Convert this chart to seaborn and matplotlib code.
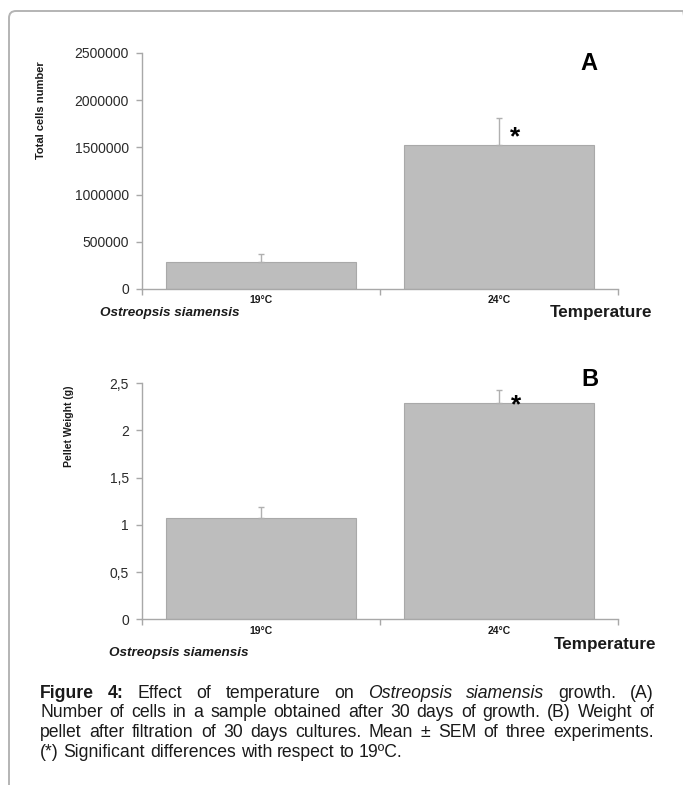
import matplotlib
matplotlib.use("Agg")
import matplotlib.pyplot as plt
import matplotlib.transforms as mtransforms
from matplotlib.patches import FancyBboxPatch
import seaborn as sns
import pandas as pd

# ---- data -------------------------------------------------------------
temperatures = ["19°C", "24°C"]
cell_counts = [286000, 1529000]
cell_counts_sem = [84000, 286000]
pellet_weights = [1.07, 2.29]
pellet_weights_sem = [0.115, 0.14]

cell_ticks = [0, 500000, 1000000, 1500000, 2000000, 2500000]
cell_tick_labels = ["0", "500000", "1000000", "1500000", "2000000", "2500000"]
weight_ticks = [0, 0.5, 1, 1.5, 2, 2.5]
weight_tick_labels = ["0", "0,5", "1", "1,5", "2", "2,5"]

# ---- style ------------------------------------------------------------
sns.set_theme(style="white")
plt.rcParams["font.family"] = ["Liberation Sans", "DejaVu Sans"]

W, H = 683, 785
fig = plt.figure(figsize=(W / 100, H / 100), dpi=100)
fig.patch.set_facecolor("white")
PIX = mtransforms.IdentityTransform()

AXIS_GREY = "#a8a8a8"
TEXT = "#1a1a1a"


def px(x, y):
    """Pixel position measured from the top-left corner -> display coords."""
    return x, H - y


def put(x, y, s, **kw):
    xx, yy = px(x, y)
    kw.setdefault("color", TEXT)
    return fig.text(xx, yy, s, transform=PIX, **kw)


# outer frame with rounded corners, running off the right and bottom edges
frame = FancyBboxPatch(px(9, 820), 690 - 9, 820 - 11,
                       boxstyle="round,pad=0,rounding_size=7",
                       transform=PIX, fill=False, edgecolor="#b4b4b4",
                       linewidth=1.4, clip_on=False)
fig.patches.append(frame)


def bar_panel(top_px, values, sems, ticks, tick_labels):
    left, right, bottom = 142, 618, top_px + 236
    ax = fig.add_axes([left / W, 1 - bottom / H, (right - left) / W, 236 / H])
    df = pd.DataFrame({"temperature": temperatures, "value": values})
    sns.barplot(data=df, x="temperature", y="value", order=temperatures,
                color="#bdbdbd", saturation=1, width=0.8, errorbar=None,
                edgecolor="#a9a9a9", linewidth=0.8, ax=ax, zorder=2)
    ax.errorbar(x=[0, 1], y=values, yerr=[[0, 0], sems], fmt="none",
                ecolor="#b0b0b0", elinewidth=1.0, capsize=2.5,
                capthick=1.0, zorder=3)

    ax.set_xlim(-0.5, 1.5)
    ax.set_ylim(ticks[0], ticks[-1])
    ax.set_yticks(ticks)
    ax.set_yticklabels(tick_labels)
    ax.set_xticks([0, 1])
    ax.set_xticklabels(temperatures)
    ax.set_xticks([-0.5, 0.5, 1.5], minor=True)
    ax.set_xlabel("")
    ax.set_ylabel("")

    for side in ("top", "right"):
        ax.spines[side].set_visible(False)
    for side in ("left", "bottom"):
        ax.spines[side].set_color(AXIS_GREY)
        ax.spines[side].set_linewidth(1.0)

    ax.tick_params(axis="y", which="major", length=4.5, width=1.0,
                   color=AXIS_GREY, direction="out", pad=5.0,
                   labelsize=10, labelcolor="#2a2a2a", left=True)
    ax.tick_params(axis="x", which="major", length=0, pad=4.5,
                   labelsize=7.5, labelcolor=TEXT, bottom=True)
    ax.tick_params(axis="x", which="minor", length=4.5, width=1.0,
                   color=AXIS_GREY, direction="out", bottom=True)
    for lbl in ax.get_xticklabels():
        lbl.set_fontweight("bold")
    ax.set_facecolor("none")
    return ax


# ---- panel A : total cell number -------------------------------------
ax_a = bar_panel(53, cell_counts, cell_counts_sem, cell_ticks, cell_tick_labels)
put(40.5, 110, "Total cells number", rotation=90, ha="center", va="center",
    fontsize=8, fontweight="bold")
put(589, 63, "A", ha="center", va="center", fontsize=17, fontweight="bold",
    color="black")
put(515.5, 137, "*", ha="center", va="center", fontsize=19,
    fontweight="bold", color="black")
put(100, 313, "Ostreopsis siamensis", ha="left", va="center", fontsize=9.7,
    fontweight="bold", style="italic")
put(550, 313, "Temperature", ha="left", va="center", fontsize=12.3,
    fontweight="bold")

# ---- panel B : pellet weight ------------------------------------------
ax_b = bar_panel(383.3, pellet_weights, pellet_weights_sem, weight_ticks,
                 weight_tick_labels)
put(69, 426.5, "Pellet Weight (g)", rotation=90, ha="center", va="center",
    fontsize=7.6, fontweight="bold")
put(590, 380, "B", ha="center", va="center", fontsize=17, fontweight="bold",
    color="black")
put(516, 405, "*", ha="center", va="center", fontsize=19,
    fontweight="bold", color="black")
put(109, 653, "Ostreopsis siamensis", ha="left", va="center", fontsize=9.7,
    fontweight="bold", style="italic")
put(554, 644, "Temperature", ha="left", va="center", fontsize=12.3,
    fontweight="bold")

# ---- caption (justified paragraph) ------------------------------------
N, B_, I_ = "normal", "bold", "italic"
caption_lines = [
    [("Figure", B_), ("4:", B_), ("Effect", N), ("of", N), ("temperature", N),
     ("on", N), ("Ostreopsis", I_), ("siamensis", I_), ("growth.", N),
     ("(A)", N)],
    [(w, N) for w in "Number of cells in a sample obtained after 30 days of "
     "growth. (B) Weight of".split()],
    [(w, N) for w in "pellet after filtration of 30 days cultures. Mean ± "
     "SEM of three experiments.".split()],
    [(w, N) for w in "(*) Significant differences with respect to 19ºC.".split()],
]
caption_baselines = [697.5, 717.2, 736.9, 756.6]
CAP_X0, CAP_X1 = 40, 654
CAP_SIZE = 12.7

renderer = fig.canvas.get_renderer()
probe_a = put(0, 0, "a a", fontsize=CAP_SIZE)
probe_b = put(0, 0, "aa", fontsize=CAP_SIZE)
space = (probe_a.get_window_extent(renderer).width
         - probe_b.get_window_extent(renderer).width)
probe_a.remove()
probe_b.remove()

for i, (words, base) in enumerate(zip(caption_lines, caption_baselines)):
    items = []
    for w, kind in words:
        kw = dict(fontsize=CAP_SIZE, ha="left", va="baseline", color=TEXT)
        if kind == B_:
            kw["fontweight"] = "bold"
        elif kind == I_:
            kw["style"] = "italic"
        items.append(put(0, base, w, **kw))
    widths = [t.get_window_extent(renderer).width for t in items]
    if i == len(caption_lines) - 1:
        gap = space
    else:
        gap = (CAP_X1 - CAP_X0 - sum(widths)) / (len(items) - 1)
    x = CAP_X0
    for t, w in zip(items, widths):
        t.set_position(px(x, base))
        x += w + gap

fig.savefig("out.png", dpi=100, facecolor="white")
